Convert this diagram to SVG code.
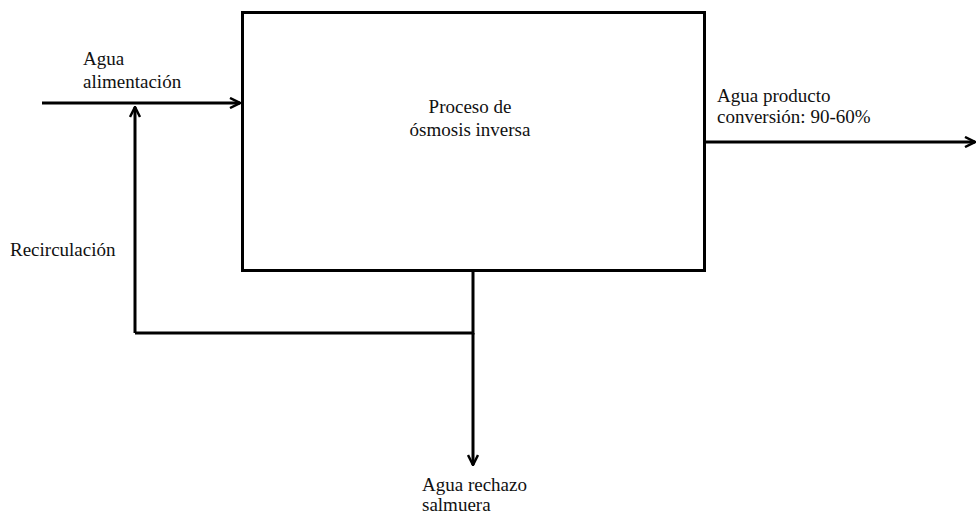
<svg xmlns="http://www.w3.org/2000/svg" width="977" height="514" viewBox="0 0 977 514">
<defs>
<marker id="arr" viewBox="0 0 12 12" refX="11" refY="6" markerWidth="12" markerHeight="12" markerUnits="userSpaceOnUse" orient="auto">
<path d="M1,1 L11,6 L1,11" fill="none" stroke="#000" stroke-width="2.5"/>
</marker>
<style>
.t{font-family:"Liberation Serif","DejaVu Serif",serif;font-size:19px;fill:#111}
.ln{fill:none;stroke:#000;stroke-width:3}
</style>
</defs>
<rect width="977" height="514" fill="#fff"/>
<g id="process">
<rect x="242.5" y="12.5" width="462" height="258" class="ln"/>
<text class="t" x="470" y="113" text-anchor="middle">Proceso de</text>
<text class="t" x="470" y="136" text-anchor="middle">ósmosis inversa</text>
</g>
<g id="connectors">
<path class="ln" d="M42,103 H240" marker-end="url(#arr)"/>
<path class="ln" d="M135,333 V107" marker-end="url(#arr)"/>
<path class="ln" d="M473,271 V333 H135"/>
<path class="ln" d="M473,333 V465" marker-end="url(#arr)"/>
<path class="ln" d="M704,142 H975" marker-end="url(#arr)"/>
</g>
<g id="labels">
<text class="t" x="83" y="65">Agua</text>
<text class="t" x="83" y="88">alimentación</text>
<text class="t" x="717" y="102">Agua producto</text>
<text class="t" x="717" y="123">conversión: 90-60%</text>
<text class="t" x="10" y="256">Recirculación</text>
<text class="t" x="422" y="491">Agua rechazo</text>
<text class="t" x="422" y="511">salmuera</text>
</g>
</svg>
